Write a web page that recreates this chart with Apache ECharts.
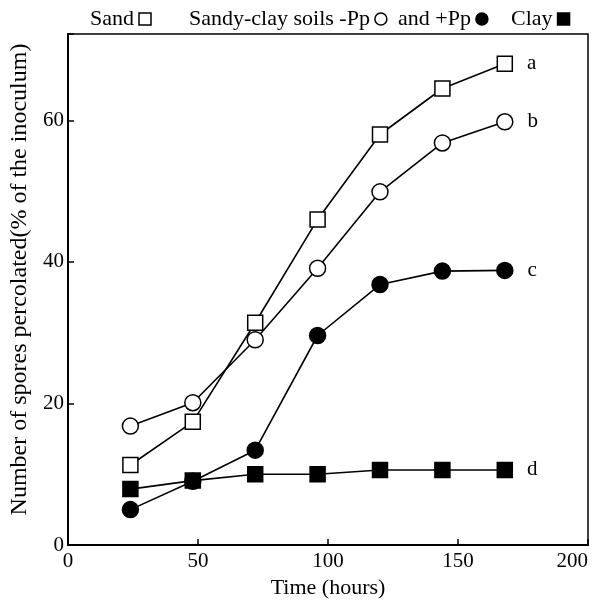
<!DOCTYPE html>
<html>
<head>
<meta charset="utf-8">
<script src="https://cdn.jsdelivr.net/npm/echarts@6/dist/echarts.min.js"></script>
<style>
html,body{margin:0;padding:0;background:#fff;}
#chart{width:593px;height:604px;}
</style>
</head>
<body>
<div id="chart"></div>
<script>
// ---- data ----
const times = [24, 48, 72, 96, 120, 144, 168];
const sand = [11.3, 17.4, 31.4, 46.0, 58.0, 64.5, 68.0];
const sandyMinusPp = [16.8, 20.1, 29.0, 39.1, 49.9, 56.8, 59.8];
const sandyPlusPp = [5.0, 9.0, 13.4, 29.6, 36.8, 38.7, 38.8];
const clay = [7.9, 9.1, 10.0, 10.0, 10.6, 10.6, 10.6];
const seriesNames = ['Sand', 'Sandy-clay soils -Pp', 'and +Pp', 'Clay'];
const endLetters = ['a', 'b', 'c', 'd'];
const xTicks = [0, 50, 100, 150, 200];
const yTicks = [0, 20, 40, 60];

const FONT = 'Liberation Serif';
const chart = echarts.init(document.getElementById('chart'));

function mk(vals, letter) {
  return vals.map((v, i) => {
    const p = { value: [times[i], v] };
    if (i === vals.length - 1) {
      p.label = { show: true, position: 'right', distance: 14, formatter: letter,
        color: '#000', fontFamily: FONT, fontSize: 21 };
    }
    return p;
  });
}

const styles = [
  { symbol: 'rect', size: 15, fill: '#fff' },
  { symbol: 'circle', size: 16, fill: '#fff' },
  { symbol: 'circle', size: 16, fill: '#000' },
  { symbol: 'rect', size: 15, fill: '#000' }
];
const allData = [sand, sandyMinusPp, sandyPlusPp, clay];

const series = allData.map((vals, k) => ({
  name: seriesNames[k],
  type: 'line',
  data: mk(vals, endLetters[k]),
  symbol: styles[k].symbol,
  symbolSize: styles[k].size,
  showAllSymbol: true,
  lineStyle: { color: '#000', width: 1.6 },
  itemStyle: { color: styles[k].fill, borderColor: '#000', borderWidth: 1.5, opacity: 1 },
  emphasis: { disabled: true },
  z: 2 + k,
  animation: false
}));

const legendLeft = [85, 184, 393, 506];
const legendIcon = ['rect', 'circle', 'circle', 'rect'];
const legends = seriesNames.map((n, k) => ({
  left: legendLeft[k],
  top: 3,
  align: 'right',
  itemWidth: 12,
  itemHeight: 12,
  itemGap: 0,
  selectedMode: false,
  textStyle: { color: '#000', fontFamily: FONT, fontSize: 22 },
  data: [{ name: n, icon: legendIcon[k],
    itemStyle: { color: styles[k].fill, borderColor: '#000', borderWidth: 1.5 } }]
}));

chart.setOption({
  animation: false,
  backgroundColor: '#fff',
  legend: legends,
  grid: { left: 60, right: 5, top: 34, bottom: 48, show: true,
    borderColor: '#000', borderWidth: 1.5, backgroundColor: 'transparent' },
  xAxis: {
    type: 'value', min: xTicks[0], max: xTicks[xTicks.length - 1], interval: 50,
    name: 'Time (hours)', nameLocation: 'middle', nameGap: 32,
    nameTextStyle: { color: '#000', fontFamily: FONT, fontSize: 22 },
    axisLine: { show: true, onZero: false, lineStyle: { color: '#000', width: 2 } },
    axisTick: { show: true, inside: true, length: 6, lineStyle: { color: '#000', width: 1.5 } },
    axisLabel: { color: '#000', fontFamily: FONT, fontSize: 21, margin: 6, alignMaxLabel: 'right' },
    splitLine: { show: false }
  },
  yAxis: {
    type: 'value', min: yTicks[0], max: 72.2, interval: 20,
    name: 'Number of spores percolated(% of the inoculum)', nameLocation: 'middle', nameGap: 36,
    nameRotate: 90,
    nameTextStyle: { color: '#000', fontFamily: FONT, fontSize: 24, padding: [0, 0, 0, 20] },
    axisLine: { show: true, onZero: false, lineStyle: { color: '#000', width: 2 } },
    axisTick: { show: true, inside: true, length: 6, lineStyle: { color: '#000', width: 1.5 } },
    axisLabel: { color: '#000', fontFamily: FONT, fontSize: 21, margin: 4,
      formatter: v => (yTicks.indexOf(v) >= 0 ? String(v) : '') },
    splitLine: { show: false }
  },
  series: series
});
</script>
</body>
</html>
